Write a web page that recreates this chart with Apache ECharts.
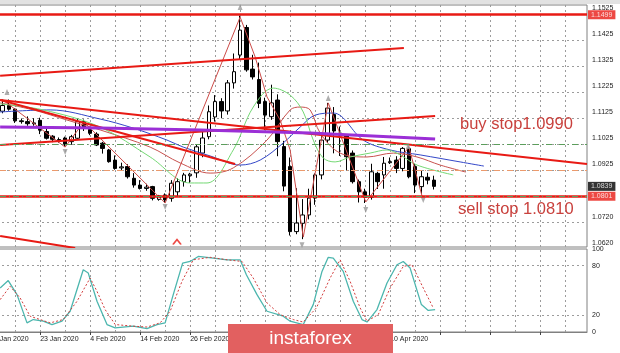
<!DOCTYPE html>
<html><head><meta charset="utf-8">
<script src="https://cdn.jsdelivr.net/npm/echarts@6/dist/echarts.min.js"></script>
<style>html,body{margin:0;padding:0;background:#fff}#c{width:620px;height:353px}</style>
</head><body><div id="c"></div>
<script>
// ---------- categories (daily bars, then empty future slots) ----------
const dates = [
'13 Jan 2020','14 Jan 2020','15 Jan 2020','16 Jan 2020','17 Jan 2020','20 Jan 2020','21 Jan 2020','22 Jan 2020','23 Jan 2020','24 Jan 2020','27 Jan 2020','28 Jan 2020','29 Jan 2020','30 Jan 2020','31 Jan 2020',
'3 Feb 2020','4 Feb 2020','5 Feb 2020','6 Feb 2020','7 Feb 2020','10 Feb 2020','11 Feb 2020','12 Feb 2020','13 Feb 2020','14 Feb 2020','17 Feb 2020','18 Feb 2020','19 Feb 2020','20 Feb 2020','21 Feb 2020','24 Feb 2020','25 Feb 2020','26 Feb 2020','27 Feb 2020','28 Feb 2020',
'2 Mar 2020','3 Mar 2020','4 Mar 2020','5 Mar 2020','6 Mar 2020','9 Mar 2020','10 Mar 2020','11 Mar 2020','12 Mar 2020','13 Mar 2020','16 Mar 2020','17 Mar 2020','18 Mar 2020','19 Mar 2020','20 Mar 2020','23 Mar 2020','24 Mar 2020','25 Mar 2020','26 Mar 2020','27 Mar 2020','30 Mar 2020','31 Mar 2020',
'1 Apr 2020','2 Apr 2020','3 Apr 2020','6 Apr 2020','7 Apr 2020','8 Apr 2020','9 Apr 2020','10 Apr 2020','13 Apr 2020','14 Apr 2020','15 Apr 2020','16 Apr 2020','17 Apr 2020','20 Apr 2020','21 Apr 2020',
'','','','','','','','','','','','','','','','','','','','','','','',''
];

// ---------- OHLC: [open, close, low, high] ----------
const ohlc = [
['-','-','-','-'],['-','-','-','-'],
[1.1128,1.1150,1.1120,1.1173],[1.1150,1.1136,1.1130,1.1173],[1.1136,1.1091,1.1083,1.1140],[1.1091,1.1088,1.1080,1.1100],
[1.1088,1.1080,1.1072,1.1108],[1.1080,1.1083,1.1072,1.1101],[1.1093,1.1055,1.1040,1.1103],[1.1050,1.1024,1.1019,1.1061],
[1.1032,1.1020,1.1009,1.1036],[1.1019,1.1014,1.1007,1.1027],[1.1025,1.1002,1.0992,1.1030],[1.1011,1.1030,1.0999,1.1037],
[1.1024,1.1088,1.1020,1.1100],[1.1088,1.1062,1.1052,1.1096],[1.1058,1.1043,1.1036,1.1062],[1.1040,1.0998,1.0994,1.1047],
[1.1005,1.0985,1.0965,1.1010],[1.0979,1.0934,1.0930,1.0983],[1.0940,1.0908,1.0903,1.0958],[1.0910,1.0914,1.0900,1.0930],
[1.0915,1.0876,1.0869,1.0924],[1.0870,1.0844,1.0834,1.0890],[1.0844,1.0831,1.0827,1.0863],[1.0831,1.0836,1.0822,1.0849],
[1.0838,1.0793,1.0785,1.0841],[1.0789,1.0802,1.0784,1.0806],[1.0806,1.0787,1.0776,1.0812],[1.0793,1.0851,1.0780,1.0863],
[1.0818,1.0857,1.0800,1.0870],[1.0857,1.0883,1.0838,1.0891],[1.0880,1.0886,1.0852,1.0891],[1.0891,1.0991,1.0872,1.1000],
[1.0967,1.1025,1.0951,1.1053],[1.1030,1.1126,1.1020,1.1150],[1.1106,1.1165,1.1088,1.1190],[1.1165,1.1129,1.1101,1.1178],
[1.1129,1.1237,1.1115,1.1248],[1.1237,1.1280,1.1215,1.1350],[1.1344,1.1440,1.1325,1.1496],[1.1450,1.1287,1.1280,1.1460],
[1.1290,1.1260,1.1250,1.1345],[1.1250,1.1158,1.1140,1.1315],[1.1165,1.1113,1.1055,1.1180],[1.1107,1.1160,1.1095,1.1230],
[1.1171,1.1011,1.0955,1.1193],[1.0992,1.0840,1.0820,1.1014],[1.0915,1.0665,1.0650,1.0950],[1.0665,1.0698,1.0655,1.0832],
[1.0697,1.0729,1.0636,1.0790],[1.0729,1.0794,1.0712,1.0830],[1.0794,1.0883,1.0768,1.0889],[1.0883,1.1017,1.0866,1.1032],
[1.1017,1.1140,1.1006,1.1160],[1.1115,1.1052,1.0966,1.1144],[1.1044,1.1036,1.0956,1.1069],[1.1037,1.0953,1.0900,1.1040],
[1.0967,1.0857,1.0850,1.0977],[1.0857,1.0818,1.0777,1.0865],[1.0818,1.0797,1.0775,1.0830],[1.0797,1.0895,1.0788,1.0926],
[1.0889,1.0857,1.0829,1.0895],[1.0883,1.0928,1.0830,1.0952],[1.0930,1.0934,1.0925,1.0950],[1.0940,1.0908,1.0890,1.0955],
[1.0908,1.0985,1.0897,1.0990],[1.0985,1.0876,1.0870,1.0992],[1.0915,1.0844,1.0813,1.0926],[1.0838,1.0876,1.0810,1.0900],
[1.0874,1.0863,1.0847,1.0891],[1.0863,1.0839,1.0827,1.0880]
];

// ---------- indicator lines: [bar position, price] ----------
const jaw = [[1.6,1.1125],[9.6,1.1133],[17.6,1.1098],[22.9,1.1063],[28.3,1.1017],[30.9,1.0990],[35.2,1.0956],[40.0,1.0921],[43.2,1.0940],[46.9,1.1006],[49.6,1.1067],[52.0,1.1113],[54.9,1.1121],[59.7,1.1017],[64.0,1.0979],[68.8,1.0960],[75.2,1.0933],[79.0,1.0917]];
const teeth = [[1.6,1.1160],[6.9,1.1133],[12.3,1.1094],[17.6,1.1056],[25.6,1.0990],[30.4,1.0929],[35.2,1.0890],[38.9,1.0910],[44.3,1.1017],[48.0,1.1133],[49.6,1.1144],[51.2,1.1133],[52.8,1.1044],[56.0,1.0967],[60.3,1.0952],[64.5,1.0967],[68.3,1.0952],[72.0,1.0921],[76.1,1.0894]];
const lips = [[1.6,1.1156],[8.5,1.1133],[17.6,1.1067],[25.6,1.0952],[32.0,1.0852],[34.7,1.0852],[38.9,1.0979],[42.1,1.1144],[45.3,1.1217],[48.0,1.1190],[50.1,1.1125],[51.7,1.1017],[53.3,1.0948],[55.2,1.0933],[57.6,1.0952],[60.8,1.0967],[63.5,1.0979],[65.6,1.0960],[68.3,1.0921],[74.1,1.0883]];
const zigzag = [[2.1,1.1170],[12.0,1.0990],[15.0,1.1087],[28.0,1.0775],[40.0,1.1490],[42.4,1.1337],[44.3,1.1183],[46.4,1.1094],[48.0,1.0979],[50.1,1.0644],[54.1,1.1160],[60.1,1.0779],[67.0,1.0990],[69.1,1.0802]];

// ---------- drawn trend lines ----------
const upperTrend = [[1.6,1.1264],[66.2,1.1371]];
const longDownTrend = [[1.6,1.1171],[95.5,1.0925]];
const steepDownTrend = [[1.6,1.1171],[39.2,1.0925]];
const risingTrend = [[1.6,1.0998],[71.2,1.1110]];
const purpleLine = [[1.6,1.1067],[17.6,1.1063],[33.6,1.1056],[51.2,1.1044],[71.2,1.1021]];
const bottomTrend = [[1.6,1.0648],[13.6,1.0602]];

// ---------- levels ----------
const redLevels = [1.1499, 1.0801];
const greenLevels = [1.0990, 1.0810];
const orangeLevels = [1.0947, 1.0853];
const lastPrice = 1.0839;

// ---------- fractal arrows ----------
const upArrows = [[2.7,1.1202],[40.0,1.1529],[54.1,1.1179],[66.9,1.0994]];
const downArrows = [[12.0,1.0971],[28.0,1.0760],[49.9,1.0613],[60.1,1.0748],[69.3,1.0787]];
const redCaret = [[29.9,1.0625]];

// ---------- stochastic ----------
const stochK = [[1.6,53],[2.9,62],[4.3,45],[5.9,11],[6.9,15],[8.5,13],[9.9,9],[11.5,13],[12.8,25],[14.9,75],[15.7,71],[17.1,37],[18.7,9],[20.0,5],[22.9,7],[25.1,4],[26.7,9],[28.0,11],[29.3,45],[30.8,83],[32.0,85],[33.3,91],[35.7,89],[37.9,87],[40.0,87],[41.0,69],[42.7,45],[44.3,25],[46.9,19],[48.0,13],[50.1,9],[51.7,33],[53.1,73],[54.1,90],[54.9,89],[56.5,73],[58.1,37],[59.5,15],[60.3,12],[61.9,27],[63.5,59],[65.1,81],[66.1,85],[67.2,77],[69.0,33],[70.1,26],[71.2,27]];
const stochD = [[1.6,39],[3.2,55],[4.8,41],[6.4,19],[8.0,15],[9.6,11],[11.7,15],[13.9,37],[16.0,65],[17.1,49],[18.4,27],[20.0,9],[22.9,7],[25.1,6],[27.2,11],[28.8,25],[30.7,61],[32.5,87],[35.2,90],[37.9,87],[40.3,85],[42.1,65],[44.3,35],[46.4,21],[48.5,15],[50.1,12],[52.2,29],[54.4,65],[56.0,87],[57.6,61],[59.2,29],[60.3,13],[62.1,21],[64.0,53],[66.1,79],[67.5,81],[69.3,53],[70.9,29]];

// ---------- ticks / grid ----------
const priceTicks = [1.1525,1.1425,1.1325,1.1225,1.1125,1.1025,1.0925,1.0720,1.0620];
const priceGrid = [1.1525,1.1425,1.1325,1.1225,1.1125,1.1025,1.0925,1.0822,1.0720,1.0620];
const stochTicks = [0,20,80,100];
const stochLevels = [20,80];
const vGrid = [0,4,8,12,16,20,24,28,32,36,40,44,48,52,56,60,64,68,72,76,80,84,88,92];

const FONT = '"Liberation Sans", Arial, sans-serif';
const N = dates.length;
const EDGE = N - 0.5;
const PMIN = 1.06058, PMAX = 1.15365;
const RED = '#e81a14';
const gridLine = {color:'#9c9c9c', type:[2,3], width:1};

const levelData = [];
redLevels.forEach(v => levelData.push({yAxis:v, lineStyle:{color:RED, width:2.5, type:'solid'}}));
greenLevels.forEach(v => levelData.push({yAxis:v, lineStyle:{color:'#5b9e5b', width:1, type:[6,3,1,3]}}));
orangeLevels.forEach(v => levelData.push({yAxis:v, lineStyle:{color:'#ec9a6c', width:1, type:[6,3,1,3]}}));

const tagData = [
  {value:[EDGE, redLevels[0]], label:{backgroundColor:RED}},
  {value:[EDGE, lastPrice], label:{backgroundColor:'#000000'}},
  {value:[EDGE, redLevels[1]], label:{backgroundColor:RED}}
];

function trend(name, data, color, width){
  return {name, type:'line', xAxisIndex:1, yAxisIndex:0, data, symbol:'none', z:4, silent:true,
          lineStyle:{color, width}};
}
function ma(name, data, color, extra){
  return Object.assign({name, type:'line', xAxisIndex:1, yAxisIndex:0, data, symbol:'none', smooth:0.35, z:4, silent:true,
          lineStyle:{color, width:1}}, extra||{});
}

const chart = echarts.init(document.getElementById('c'), null, {renderer:'canvas', width:620, height:353});
chart.setOption({
  animation:false,
  backgroundColor:'#ffffff',
  textStyle:{fontFamily:FONT},
  grid:[
    {left:-13, right:33, top:5, height:242, show:true, borderColor:'#808080', borderWidth:1, outerBoundsMode:'none', containLabel:false},
    {left:-13, right:33, top:249, height:83, show:true, borderColor:'#808080', borderWidth:1, outerBoundsMode:'none', containLabel:false}
  ],
  xAxis:[
    {type:'category', gridIndex:0, data:dates, boundaryGap:true, axisLine:{show:false}, axisTick:{show:false}, axisLabel:{show:false}, splitLine:{show:false}},
    {type:'value', gridIndex:0, min:-0.5, max:EDGE, show:false},
    {type:'category', gridIndex:1, data:dates, boundaryGap:true,
      axisLine:{show:true, lineStyle:{color:'#808080'}},
      axisTick:{show:true, alignWithLabel:true, interval:(i)=> i%8===0, length:3, lineStyle:{color:'#444'}},
      axisLabel:{show:true, interval:(i,v)=> i%8===0 && v!=='', align:'left', fontSize:7, color:'#222', margin:4, fontFamily:FONT, hideOverlap:false},
      splitLine:{show:false}},
    {type:'value', gridIndex:1, min:-0.5, max:EDGE, show:false}
  ],
  yAxis:[
    {type:'value', gridIndex:0, position:'right', min:PMIN, max:PMAX, scale:true,
      axisLine:{show:true, lineStyle:{color:'#808080'}},
      axisTick:{show:true, customValues:priceTicks, length:3, lineStyle:{color:'#444'}},
      axisLabel:{show:true, customValues:priceTicks, formatter:(v)=>Number(v).toFixed(4), fontSize:7, color:'#222', margin:5, fontFamily:FONT},
      splitLine:{show:false}},
    {type:'value', gridIndex:1, position:'right', min:0, max:100,
      axisLine:{show:true, lineStyle:{color:'#808080'}},
      axisTick:{show:true, customValues:stochTicks, length:3, lineStyle:{color:'#444'}},
      axisLabel:{show:true, customValues:stochTicks, formatter:(v)=>String(Math.round(v)), fontSize:7, color:'#222', margin:5, fontFamily:FONT},
      splitLine:{show:false}}
  ],
  series:[
    {name:'EURUSD', type:'candlestick', xAxisIndex:0, yAxisIndex:0, data:ohlc, barWidth:4, z:3, silent:true,
      itemStyle:{color:'#ffffff', color0:'#000000', borderColor:'#000000', borderColor0:'#000000', borderWidth:1},
      markLine:{silent:true, z:1, symbol:['none','none'], label:{show:false}, lineStyle:gridLine,
        data: priceGrid.map(p=>({yAxis:p}))}},
    ma('jaw', jaw, '#3347c8', {markLine:{silent:true, z:1, symbol:['none','none'], label:{show:false}, lineStyle:gridLine,
        data: vGrid.map(v=>({xAxis:v}))}}),
    ma('teeth', teeth, '#c8524f'),
    ma('lips', lips, '#74d874', {markLine:{silent:true, z:6, symbol:['none','none'], label:{show:false}, data: levelData}}),
    {name:'zigzag', type:'line', xAxisIndex:1, yAxisIndex:0, data:zigzag, symbol:'none', z:4, silent:true, lineStyle:{color:'#cc4b48', width:1}},
    trend('upperTrend', upperTrend, RED, 2),
    trend('longDownTrend', longDownTrend, RED, 2),
    trend('steepDownTrend', steepDownTrend, RED, 2),
    trend('risingTrend', risingTrend, RED, 2),
    trend('purple', purpleLine, '#9b2fd6', 3),
    trend('bottomTrend', bottomTrend, RED, 2),
    {name:'fractalUp', type:'scatter', xAxisIndex:1, yAxisIndex:0, data:upArrows, symbol:'triangle', symbolSize:[5,6], z:5, silent:true, itemStyle:{color:'#9a9a9a'}},
    {name:'fractalDown', type:'scatter', xAxisIndex:1, yAxisIndex:0, data:downArrows, symbol:'triangle', symbolRotate:180, symbolSize:[5,6], z:5, silent:true, itemStyle:{color:'#9a9a9a'}},
    {name:'caret', type:'scatter', xAxisIndex:1, yAxisIndex:0, data:redCaret, symbol:'path://M0,10 L5,0 L10,10', symbolSize:[8,5], z:5, silent:true, itemStyle:{color:'transparent', borderColor:RED, borderWidth:1.5}},
    {name:'tags', type:'scatter', xAxisIndex:1, yAxisIndex:0, data:tagData, symbolSize:0, z:20, silent:true, clip:false,
      labelLayout:{hideOverlap:false},
      label:{show:true, position:'right', distance:1, formatter:(p)=>p.value[1].toFixed(4), color:'#ffffff', fontSize:7, fontFamily:FONT, padding:[1,3,1,3]}},
    {name:'%K', type:'line', xAxisIndex:3, yAxisIndex:1, data:stochK, symbol:'none', z:4, silent:true, lineStyle:{color:'#4cb6ae', width:1.3},
      markLine:{silent:true, z:1, symbol:['none','none'], label:{show:false}, lineStyle:gridLine,
        data: vGrid.map(v=>({xAxis:v})).concat(stochLevels.map(l=>({yAxis:l})))}},
    {name:'%D', type:'line', xAxisIndex:3, yAxisIndex:1, data:stochD, symbol:'none', z:4, silent:true, lineStyle:{color:'#d23c3c', width:1, type:[2,2]}}
  ],
  graphic:[
    {type:'rect', shape:{x:0, y:0, width:620, height:4}, style:{fill:'#e2e2e2'}, z:50},
    {type:'text', left:460, top:116, z:60, style:{text:'buy stop1.0990', fill:'#c9413d', font:'16.5px "Liberation Sans", Arial, sans-serif'}},
    {type:'text', left:458, top:201, z:60, style:{text:'sell stop 1.0810', fill:'#c9413d', font:'16.5px "Liberation Sans", Arial, sans-serif'}},
    {type:'rect', shape:{x:228, y:324, width:165, height:29}, style:{fill:'#e26060'}, z:100},
    {type:'text', x:310.5, y:339, z:101, style:{text:'instaforex', fill:'#ffffff', font:'19px "Liberation Sans", Arial, sans-serif', align:'center', verticalAlign:'middle'}}
  ]
});
</script>
</body></html>
